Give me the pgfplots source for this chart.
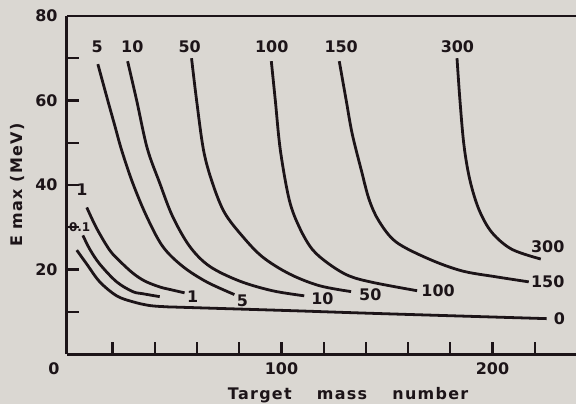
\documentclass[border=0pt]{standalone}
\usepackage{fontspec}
\setmainfont{DejaVu Sans}
\newfontfamily\lab{DejaVu Sans}[LetterSpace=8]
\usepackage{pgfplots}
\pgfplotsset{compat=1.18}
\definecolor{ink}{RGB}{28,20,24}
\definecolor{paper}{RGB}{218,215,210}
\pgfplotsset{curve/.style={ink, line width=2.1pt, smooth, tension=0.55, mark=none}}
\begin{document}
\begin{tikzpicture}[font=\fontsize{12}{14}\selectfont\bfseries]
\fill[paper] (-50.25pt,-37.5pt) rectangle (382.5pt,266.25pt);
\begin{axis}[
 name=ax, at={(0pt,0pt)}, anchor=south west,
 scale only axis,
 width=382.5pt, height=254.25pt,
 xmin=-1.7, xmax=239.4, ymin=0, ymax=80,
 axis x line*=bottom, axis y line*=left,
 axis line style={ink, line width=2.1pt},
 clip=false,
 xtick={20,40,...,220},
 xticklabels={,,,,100,,,,,200,},
 ytick={10,20,...,80},
 yticklabels={,20,,40,,60,,80},
 xtick align=inside, ytick align=inside,
 major tick length=9pt,
 xtick style={draw=ink, line width=1.7pt},
 ytick style={draw=ink, line width=1.7pt},
 xticklabel style={inner sep=0pt, yshift=-6pt, anchor=north},
 yticklabel style={inner sep=0pt, xshift=-6.75pt, anchor=east},
 every tick label/.append style={text=ink, font=\fontsize{12}{14}\selectfont\bfseries},
 /pgf/number format/assume math mode=true,
]
% curve 0
\addplot[curve] coordinates {(3.0,24.6) (7.75,21.3) (13.9,17.1) (21.9,13.8) (29.5,12.4) (37.5,11.5) (45.6,11.2) (51.7,11.1) (103.7,10.3) (146.3,9.6) (225.7,8.4)};
% curve 0.1
\addplot[curve] coordinates {(5.9,28.1) (9.2,24.8) (13.9,21.3) (21.9,17.1) (29.5,14.8) (34.2,14.3) (42.3,13.6)};
% curve 1
\addplot[curve] coordinates {(7.75,34.7) (12.5,29.7) (18.6,24.6) (23.4,22.0) (29.5,19.2) (35.2,17.3) (42.3,15.9) (48.0,15.2) (54.1,14.5)};
% curve 5
\addplot[curve] coordinates {(13.0,68.6) (17.7,60.0) (21.0,54.1) (24.3,48.2) (29.5,40.5) (36.1,32.6) (43.7,25.5) (53.1,20.8) (64.5,17.1) (77.7,14.1)};
% curve 10
\addplot[curve] coordinates {(27.1,69.3) (31.4,60.0) (36.4,48.7) (42.3,40.5) (48.4,32.6) (56.5,25.5) (65.9,20.8) (80.1,17.3) (95.7,15.0) (110.8,13.8)};
% curve 50
\addplot[curve] coordinates {(57.4,70.0) (59.8,60.0) (63.1,48.2) (67.3,40.5) (73.0,33.5) (81.5,27.9) (91.0,23.0) (103.7,19.0) (117.9,16.2) (133.0,14.8)};
% curve 100
\addplot[curve] coordinates {(95.2,69.3) (97.1,60.0) (99.5,48.2) (103.7,36.5) (108.5,30.0) (114.6,24.8) (122.6,21.3) (132.1,18.5) (143.9,16.9) (164.3,15.0)};
% curve 150
\addplot[curve] coordinates {(127.4,69.3) (130.7,60.0) (133.5,52.2) (137.8,43.6) (141.6,36.5) (146.3,31.4) (154.4,26.5) (169.9,22.5) (185.5,19.7) (201.6,18.3) (217.2,17.1)};
% curve 300
\addplot[curve] coordinates {(183.2,70.0) (184.6,60.0) (186.5,49.4) (189.3,41.2) (193.6,34.2) (199.7,28.8) (209.2,24.8) (222.9,22.5)};
% top labels
\node[text=ink] at (axis cs:12.7,72.8) {5};
\node[text=ink] at (axis cs:29.3,72.8) {10};
\node[text=ink] at (axis cs:56.5,72.8) {50};
\node[text=ink] at (axis cs:95.4,72.8) {100};
\node[text=ink] at (axis cs:128.3,72.8) {150};
\node[text=ink] at (axis cs:183.4,72.8) {300};
% left / bottom labels
\node[text=ink] at (axis cs:5.4,38.9) {1};
\node[text=ink, font=\fontsize{9}{10}\selectfont\bfseries] at (axis cs:4.4,30.0) {0.1};
\node[text=ink] at (axis cs:57.9,13.6) {1};
\node[text=ink] at (axis cs:81.5,12.6) {5};
\node[text=ink] at (axis cs:119.4,13.1) {10};
\node[text=ink] at (axis cs:142.1,14.1) {50};
\node[text=ink, anchor=west, inner sep=0pt] at (axis cs:166.2,15.0) {100};
\node[text=ink, anchor=west, inner sep=0pt] at (axis cs:218.2,17.1) {150};
\node[text=ink, anchor=west, inner sep=0pt] at (axis cs:218.2,25.5) {300};
\node[text=ink, anchor=west, inner sep=0pt] at (axis cs:229.0,8.4) {0};
\end{axis}
\draw[ink, line width=2.1pt] (ax.north west) -- (ax.north east);
\node[rotate=90, text=ink] at ([xshift=-37.1pt]ax.west) {\lab E max (MeV)};
\node[anchor=base, text=ink] at ([xshift=211.5pt, yshift=-33.75pt]ax.south west) {\lab Target\hspace{19pt}mass\hspace{19pt}number};
\node[anchor=north east, inner sep=0pt, text=ink] at ([xshift=-5.25pt,yshift=-6pt]ax.south west) {0};
\path[use as bounding box] (-50.25pt,-37.5pt) rectangle (382.5pt,266.25pt);
\end{tikzpicture}
\end{document}
